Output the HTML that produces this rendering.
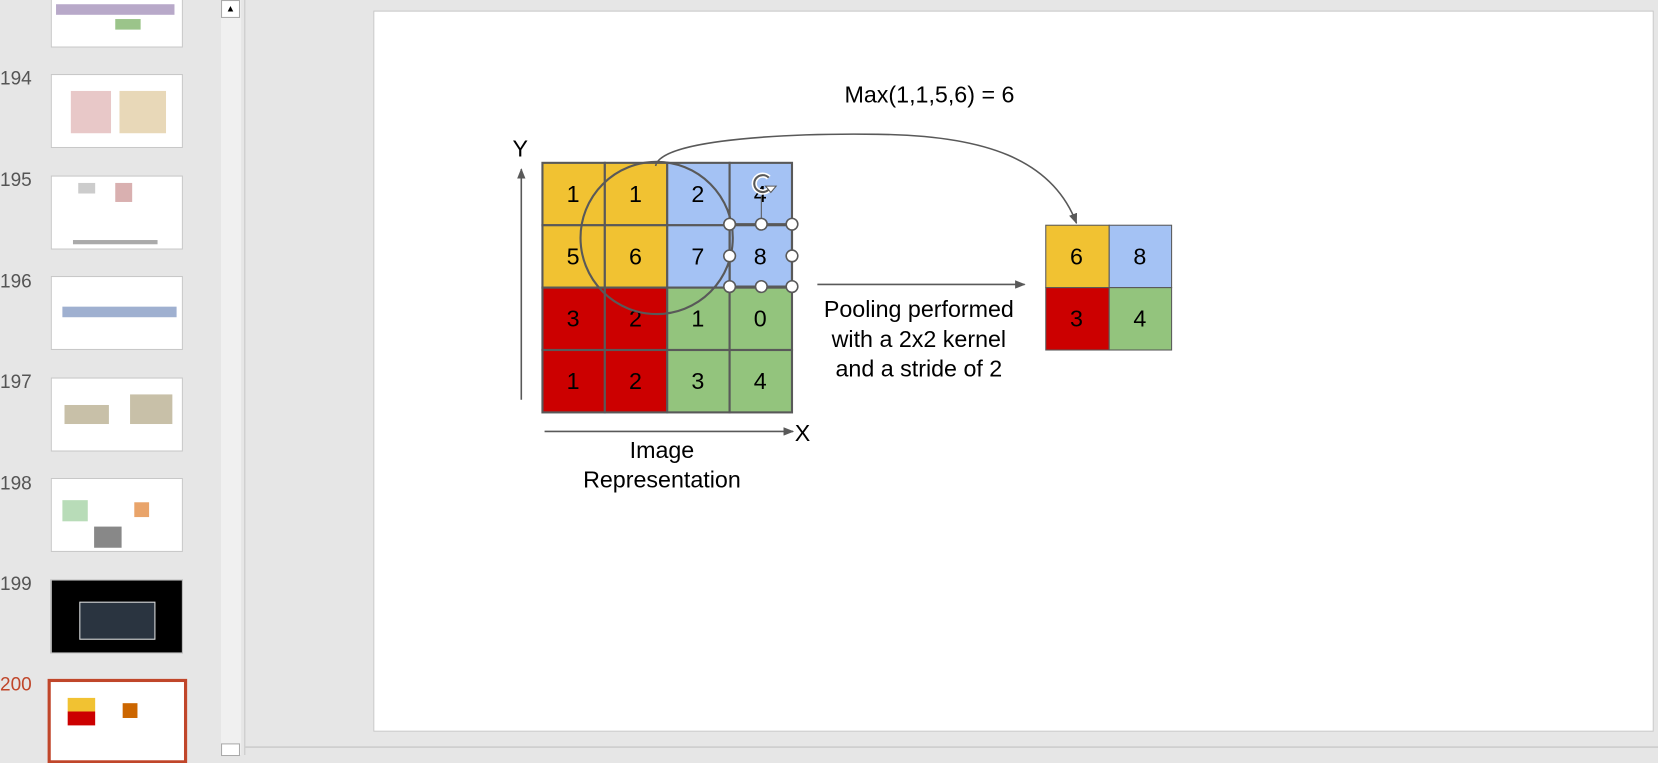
<!DOCTYPE html>
<html><head><meta charset="utf-8"><style>
html,body{margin:0;padding:0;width:1658px;height:755px;overflow:hidden;background:#e6e6e6;font-family:"Liberation Sans",Arial,sans-serif}
#w{position:absolute;left:0;top:0;width:1568px;height:714px;transform:scale(1.05740,1.05742);transform-origin:0 0}
.th{position:absolute;left:48px;width:125px;height:70px;background:#fff;border:1px solid #c8c8c8;box-sizing:border-box}
.n{position:absolute;left:0;font-size:18px;color:#555}
.b{position:absolute;background:#999}
</style></head><body><div id="w">
<div class="th" style="top:-25px"><div class="b" style="left:4px;top:28px;width:112px;height:10px;background:#b8a9c9"></div><div class="b" style="left:60px;top:42px;width:24px;height:10px;background:#9bc48a"></div></div>
<div class="th" style="top:70px"><div class="b" style="left:18px;top:15px;width:38px;height:40px;background:#e8c8c8"></div><div class="b" style="left:64px;top:15px;width:44px;height:40px;background:#e8d8b8"></div></div>
<div class="th" style="top:166px"><div class="b" style="left:25px;top:6px;width:16px;height:10px;background:#ccc"></div><div class="b" style="left:60px;top:6px;width:16px;height:18px;background:#d9b0b0"></div><div class="b" style="left:20px;top:60px;width:80px;height:4px;background:#aaa"></div></div>
<div class="th" style="top:261px"><div class="b" style="left:10px;top:28px;width:108px;height:10px;background:#9fb0d0"></div></div>
<div class="th" style="top:357px"><div class="b" style="left:12px;top:25px;width:42px;height:18px;background:#c8c0a8"></div><div class="b" style="left:74px;top:15px;width:40px;height:28px;background:#c8c0a8"></div></div>
<div class="th" style="top:452px"><div class="b" style="left:10px;top:20px;width:24px;height:20px;background:#b8dcb8"></div><div class="b" style="left:40px;top:45px;width:26px;height:20px;background:#888"></div><div class="b" style="left:78px;top:22px;width:14px;height:14px;background:#e9a46a"></div></div>
<div class="th" style="top:548px;background:#000"><div class="b" style="left:26px;top:20px;width:70px;height:34px;background:#2a3440;border:1px solid #ddd"></div></div>
<div class="th" style="top:642px;left:45px;width:132px;height:80px;border:3px solid #c0462a"><div class="b" style="left:16px;top:15px;width:26px;height:26px;background:linear-gradient(#f1c232 50%,#cc0000 50%)"></div><div class="b" style="left:68px;top:20px;width:14px;height:14px;background:#cc6600"></div></div>
<div class="n" style="top:64px">194</div>
<div class="n" style="top:160px">195</div>
<div class="n" style="top:256px">196</div>
<div class="n" style="top:351px">197</div>
<div class="n" style="top:447px">198</div>
<div class="n" style="top:542px">199</div>
<div class="n" style="top:637px;color:#c0462a">200</div>
<div style="position:absolute;left:209px;top:0;width:19px;height:714px;background:#f0f0f0"></div>
<div style="position:absolute;left:209px;top:0;width:18px;height:17px;background:#fff;border:1px solid #aaa;box-sizing:border-box;font-size:9px;text-align:center;line-height:15px">▲</div>
<div style="position:absolute;left:209px;top:703px;width:18px;height:12px;background:#fff;border:1px solid #aaa;box-sizing:border-box"></div>
<div style="position:absolute;left:231px;top:0;width:1px;height:714px;background:#c8c8c8"></div>
<div style="position:absolute;left:232px;top:706px;width:1336px;height:1px;background:#c0c0c0"></div>
<div style="position:absolute;left:353px;top:10px;width:1211px;height:682px;background:#fff;border:1px solid #c8c8c8;box-sizing:border-box"></div>
<svg style="position:absolute;left:0;top:0" width="1568" height="714" font-family="Liberation Sans,Arial,sans-serif">
<defs><marker id="a" markerWidth="10" markerHeight="8" refX="9" refY="4" orient="auto" markerUnits="userSpaceOnUse"><path d="M0,0L10,4L0,8z" fill="#595959"/></marker></defs>
<g stroke="#595959" stroke-width="2">
<rect x="513" y="154" width="59" height="59" fill="#f1c232"/><rect x="572" y="154" width="59" height="59" fill="#f1c232"/>
<rect x="631" y="154" width="59" height="59" fill="#a4c2f4"/><rect x="690" y="154" width="59" height="59" fill="#a4c2f4"/>
<rect x="513" y="213" width="59" height="59" fill="#f1c232"/><rect x="572" y="213" width="59" height="59" fill="#f1c232"/>
<rect x="631" y="213" width="59" height="59" fill="#a4c2f4"/><rect x="690" y="213" width="59" height="59" fill="#a4c2f4"/>
<rect x="513" y="272" width="59" height="59" fill="#cc0000"/><rect x="572" y="272" width="59" height="59" fill="#cc0000"/>
<rect x="631" y="272" width="59" height="59" fill="#93c47d"/><rect x="690" y="272" width="59" height="59" fill="#93c47d"/>
<rect x="513" y="331" width="59" height="59" fill="#cc0000"/><rect x="572" y="331" width="59" height="59" fill="#cc0000"/>
<rect x="631" y="331" width="59" height="59" fill="#93c47d"/><rect x="690" y="331" width="59" height="59" fill="#93c47d"/>
<rect x="989" y="213" width="60" height="59" fill="#f1c232" stroke-width="1"/><rect x="1049" y="213" width="59" height="59" fill="#a4c2f4" stroke-width="1"/>
<rect x="989" y="272" width="60" height="59" fill="#cc0000" stroke-width="1"/><rect x="1049" y="272" width="59" height="59" fill="#93c47d" stroke-width="1"/>
</g>
<g font-size="22" text-anchor="middle" fill="#000">
<text x="542" y="191">1</text><text x="601" y="191">1</text><text x="660" y="191">2</text><text x="719" y="191">4</text>
<text x="542" y="250">5</text><text x="601" y="250">6</text><text x="660" y="250">7</text><text x="719" y="250">8</text>
<text x="542" y="309">3</text><text x="601" y="309">2</text><text x="660" y="309">1</text><text x="719" y="309">0</text>
<text x="542" y="368">1</text><text x="601" y="368">2</text><text x="660" y="368">3</text><text x="719" y="368">4</text>
<text x="1018" y="250">6</text><text x="1078" y="250">8</text><text x="1018" y="309">3</text><text x="1078" y="309">4</text>
<text x="492" y="148">Y</text><text x="759" y="417">X</text>
<text x="626" y="433">Image</text><text x="626" y="461">Representation</text>
<text x="879" y="97">Max(1,1,5,6) = 6</text>
<text x="869" y="300">Pooling performed</text><text x="869" y="328">with a 2x2 kernel</text><text x="869" y="356">and a stride of 2</text>
</g>
<g stroke="#595959" stroke-width="1.5" fill="none">
<line x1="493" y1="378" x2="493" y2="160" marker-end="url(#a)"/>
<line x1="515" y1="408" x2="750" y2="408" marker-end="url(#a)"/>
<line x1="773" y1="269" x2="969" y2="269" marker-end="url(#a)"/>
<path d="M620,157 C625,130 760,126 830,127 C930,128 995,150 1018,211" marker-end="url(#a)"/>
<circle cx="621" cy="225" r="72" stroke-width="2"/>
<rect x="690" y="212" width="59" height="59" stroke-width="2"/>
<line x1="720" y1="185" x2="720" y2="212" stroke-width="1"/>
</g>
<g fill="#fff" stroke="#595959" stroke-width="1.5">
<circle cx="690" cy="212" r="5.5"/><circle cx="720" cy="212" r="5.5"/><circle cx="749" cy="212" r="5.5"/>
<circle cx="690" cy="242" r="5.5"/><circle cx="749" cy="242" r="5.5"/>
<circle cx="690" cy="271" r="5.5"/><circle cx="720" cy="271" r="5.5"/><circle cx="749" cy="271" r="5.5"/>
</g>
<path d="M727,168 A8,8 0 1 0 728,178" fill="none" stroke="#fff" stroke-width="5"/>
<path d="M727,168 A8,8 0 1 0 728,178" fill="none" stroke="#595959" stroke-width="2"/>
<path d="M724,176 L734,176 L729,182z" fill="#fff" stroke="#595959" stroke-width="1"/>
</svg>
</div></body></html>
